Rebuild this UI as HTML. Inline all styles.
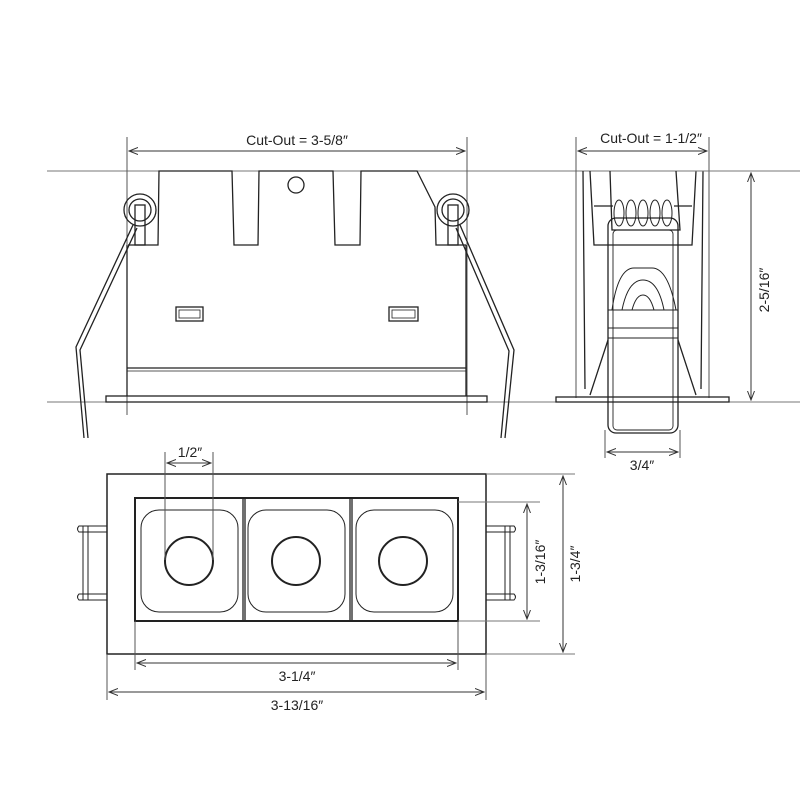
<!DOCTYPE html>
<html><head><style>body{margin:0;background:#fff}svg{display:block}</style></head><body>
<svg width="800" height="800" viewBox="0 0 800 800" xmlns="http://www.w3.org/2000/svg" font-family="Liberation Sans, sans-serif">
<defs>
<marker id="a" markerWidth="10" markerHeight="8" refX="9" refY="4" orient="auto-start-reverse" markerUnits="userSpaceOnUse"><path d="M0,0.5 L9,4 L0,7.5" fill="none" stroke="#333" stroke-width="1"/></marker>
</defs>
<g stroke="#222" fill="none" stroke-width="1.3">
<!-- FRONT VIEW -->
<line x1="47" y1="171" x2="800" y2="171" stroke="#777" stroke-width="1"/>
<line x1="47" y1="402" x2="800" y2="402" stroke="#777" stroke-width="1"/>
<line x1="127" y1="137" x2="127" y2="415" stroke="#555" stroke-width="1"/>
<line x1="467" y1="137" x2="467" y2="415" stroke="#555" stroke-width="1"/>
<line x1="129" y1="151" x2="465" y2="151" stroke="#333" stroke-width="1" marker-start="url(#a)" marker-end="url(#a)"/>
<path d="M128,245 L158,245 L159,171 L232,171 L234,245 L258,245 L259,171 L333,171 L335,245 L360,245 L361,171 L417,171 L435,207 L436,245 L466,245"/>
<circle cx="296" cy="185" r="8"/>
<path d="M127,245 L127,396 M466,245 L466,396"/>
<line x1="127" y1="368" x2="466" y2="368"/>
<line x1="127" y1="371" x2="466" y2="371" stroke-width="0.8"/>
<rect x="106" y="396" width="381" height="6"/>
<rect x="176" y="307" width="27" height="14"/><rect x="179" y="310" width="21" height="8" stroke-width="0.8"/>
<rect x="389" y="307" width="29" height="14"/><rect x="392" y="310" width="23" height="8" stroke-width="0.8"/>
<circle cx="140" cy="210" r="16"/><circle cx="140" cy="210" r="11"/><rect x="135" y="205" width="10" height="40"/>
<circle cx="453" cy="210" r="16"/><circle cx="453" cy="210" r="11"/><rect x="448" y="205" width="10" height="40"/>
<path d="M133,225 L76,347 L84,438 M137,228 L80,350 L88,438"/>
<path d="M460,225 L514,350 L505,438 M456,228 L509,351 L501,438"/>
<!-- SIDE VIEW -->
<line x1="576" y1="137" x2="576" y2="398" stroke="#555" stroke-width="1"/>
<line x1="709" y1="137" x2="709" y2="398" stroke="#555" stroke-width="1"/>
<line x1="578" y1="151" x2="707" y2="151" stroke="#333" stroke-width="1" marker-start="url(#a)" marker-end="url(#a)"/>
<path d="M583,171 L585,389 M703,171 L701,389 M590,171 L594,245 L692,245 L696,171"/>
<path d="M594,206 L613,206 M674,206 L692,206"/>
<path d="M610,171 L612,230 L680,230 L676,171"/>
<rect x="608" y="218" width="70" height="215" rx="8"/>
<rect x="613" y="230" width="60" height="200" rx="4" stroke-width="0.9"/>
<g stroke-width="1"><ellipse cx="619" cy="213" rx="5" ry="13"/><ellipse cx="631" cy="213" rx="5" ry="13"/><ellipse cx="643" cy="213" rx="5" ry="13"/><ellipse cx="655" cy="213" rx="5" ry="13"/><ellipse cx="667" cy="213" rx="5" ry="13"/></g>
<path d="M612,310 Q618,268 634,268 L652,268 Q668,268 676,310 Z" stroke-width="1"/>
<path d="M622,310 Q628,280 643,280 Q658,280 664,310" stroke-width="1"/>
<path d="M632,310 Q636,295 643,295 Q650,295 654,310" stroke-width="1"/>
<rect x="608" y="310" width="70" height="18" stroke-width="1"/>
<rect x="608" y="328" width="70" height="10" stroke-width="1"/>
<path d="M608,340 L590,395 M678,340 L696,395"/>
<rect x="556" y="397" width="173" height="5"/>
<line x1="680" y1="171" x2="765" y2="171" stroke="#777" stroke-width="1"/>
<line x1="751" y1="173" x2="751" y2="400" stroke="#333" stroke-width="1" marker-start="url(#a)" marker-end="url(#a)"/>
<line x1="605" y1="430" x2="605" y2="458" stroke="#555" stroke-width="1"/>
<line x1="680" y1="430" x2="680" y2="458" stroke="#555" stroke-width="1"/>
<line x1="607" y1="452" x2="678" y2="452" stroke="#333" stroke-width="1" marker-start="url(#a)" marker-end="url(#a)"/>
<!-- BOTTOM VIEW -->
<rect x="107" y="474" width="379" height="180" stroke-width="1.5"/>
<rect x="135" y="498" width="323" height="123" stroke-width="2"/>
<line x1="243" y1="498" x2="243" y2="621"/><line x1="245" y1="498" x2="245" y2="621"/>
<line x1="350" y1="498" x2="350" y2="621"/><line x1="352" y1="498" x2="352" y2="621"/>
<rect x="141" y="510" width="97" height="102" rx="18" stroke-width="1"/>
<rect x="248" y="510" width="97" height="102" rx="18" stroke-width="1"/>
<rect x="356" y="510" width="97" height="102" rx="18" stroke-width="1"/>
<circle cx="189" cy="561" r="24" stroke-width="2"/>
<circle cx="296" cy="561" r="24" stroke-width="2"/>
<circle cx="403" cy="561" r="24" stroke-width="2"/>
<path d="M107,526 L79,526 Q76,529 79,532 L107,532 M107,594 L79,594 Q76,597 79,600 L107,600 M83,526 L83,600 M88,526 L88,600" stroke-width="1"/>
<path d="M486,526 L514,526 Q517,529 514,532 L486,532 M486,594 L514,594 Q517,597 514,600 L486,600 M505,526 L505,600 M510,526 L510,600" stroke-width="1"/>
<line x1="165" y1="452" x2="165" y2="560" stroke="#555" stroke-width="1"/>
<line x1="213" y1="452" x2="213" y2="560" stroke="#555" stroke-width="1"/>
<line x1="167" y1="463" x2="211" y2="463" stroke="#333" stroke-width="1" marker-start="url(#a)" marker-end="url(#a)"/>
<line x1="458" y1="502" x2="540" y2="502" stroke="#777" stroke-width="1"/>
<line x1="458" y1="621" x2="540" y2="621" stroke="#777" stroke-width="1"/>
<line x1="527" y1="504" x2="527" y2="619" stroke="#333" stroke-width="1" marker-start="url(#a)" marker-end="url(#a)"/>
<line x1="486" y1="474" x2="575" y2="474" stroke="#777" stroke-width="1"/>
<line x1="486" y1="654" x2="575" y2="654" stroke="#777" stroke-width="1"/>
<line x1="563" y1="476" x2="563" y2="652" stroke="#333" stroke-width="1" marker-start="url(#a)" marker-end="url(#a)"/>
<line x1="135" y1="621" x2="135" y2="670" stroke="#555" stroke-width="1"/>
<line x1="458" y1="621" x2="458" y2="670" stroke="#555" stroke-width="1"/>
<line x1="137" y1="663" x2="456" y2="663" stroke="#333" stroke-width="1" marker-start="url(#a)" marker-end="url(#a)"/>
<line x1="107" y1="654" x2="107" y2="700" stroke="#555" stroke-width="1"/>
<line x1="486" y1="654" x2="486" y2="700" stroke="#555" stroke-width="1"/>
<line x1="109" y1="692" x2="484" y2="692" stroke="#333" stroke-width="1" marker-start="url(#a)" marker-end="url(#a)"/>
</g>
<g fill="#222" font-size="14" text-anchor="middle">
<text x="297" y="145">Cut-Out = 3-5/8″</text>
<text x="651" y="143">Cut-Out = 1-1/2″</text>
<text x="642" y="470">3/4″</text>
<text x="190" y="457">1/2″</text>
<text x="297" y="681">3-1/4″</text>
<text x="297" y="710">3-13/16″</text>
<text transform="translate(769,290) rotate(-90)">2-5/16″</text>
<text transform="translate(545,562) rotate(-90)">1-3/16″</text>
<text transform="translate(580,564) rotate(-90)">1-3/4″</text>
</g>
</svg>
</body></html>
